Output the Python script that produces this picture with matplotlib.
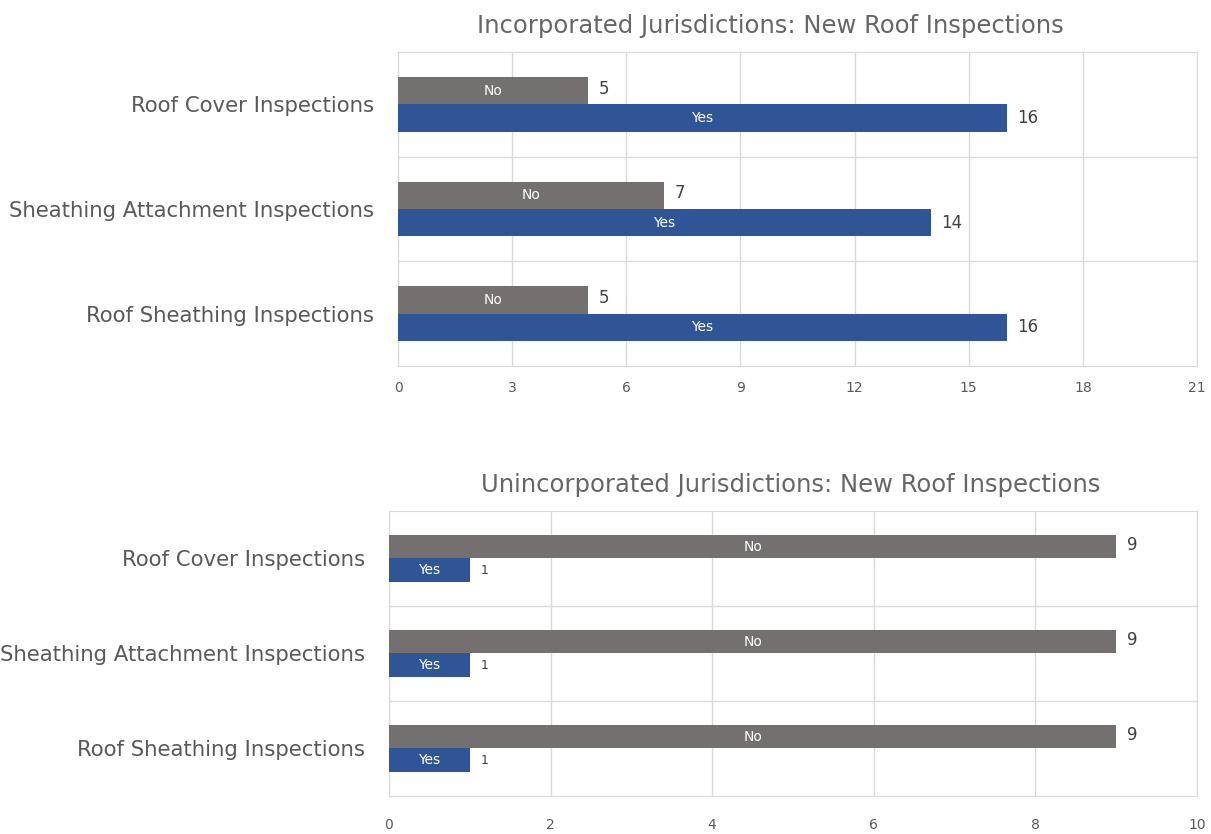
import numpy as np
import matplotlib.pyplot as plt

# Survey counts, listed top to bottom as shown
categories = ['Roof Cover Inspections', 'Sheathing Attachment Inspections', 'Roof Sheathing Inspections']
inc_no = [5, 7, 5]
inc_yes = [16, 14, 16]
uninc_no = [9, 9, 9]
uninc_yes = [1, 1, 1]

GRAY = '#757070'
BLUE = '#2F5597'
GRID = '#d9d9d9'
TXT = '#595959'

fig = plt.figure(figsize=(12.11, 8.34), dpi=100)
ax1 = fig.add_axes([0.3287, 0.5612, 0.6597, 0.3764])
ax2 = fig.add_axes([0.3212, 0.0456, 0.6672, 0.3417])


def draw(ax, no, yes, xmax, step, title, h, small_yes_lbl, title_x, xpad):
    y = np.arange(len(categories))[::-1]
    ax.barh(y + h / 2, no, height=h, color=GRAY, zorder=3)
    ax.barh(y - h / 2, yes, height=h, color=BLUE, zorder=3)
    for yi, n, v in zip(y, no, yes):
        ax.text(n / 2, yi + h / 2, 'No', color='white', ha='center', va='center', fontsize=10, zorder=4)
        ax.text(v / 2, yi - h / 2, 'Yes', color='white', ha='center', va='center', fontsize=10, zorder=4)
        ax.text(n + xmax * 0.013, yi + h / 2 + 0.02, str(n), color='#404040', ha='left', va='center', fontsize=12)
        ax.text(v + xmax * 0.013, yi - h / 2, str(v), color='#404040', ha='left', va='center',
                fontsize=9 if small_yes_lbl else 12)
    ax.set_xlim(0, xmax)
    ax.set_ylim(-0.5, len(categories) - 0.5)
    ax.set_xticks(np.arange(0, xmax + 0.1, step))
    ax.set_yticks(y)
    ax.set_yticklabels(categories, fontsize=15.3, color=TXT)
    # category separators
    for b in np.arange(0.5, len(categories) - 1, 1.0):
        ax.axhline(b, color=GRID, lw=1, zorder=1)
    ax.grid(axis='x', color=GRID, lw=1, zorder=1)
    for s in ax.spines.values():
        s.set_color(GRID)
    ax.tick_params(axis='both', length=0)
    ax.tick_params(axis='y', pad=17)
    ax.tick_params(axis='x', labelsize=10, labelcolor=TXT, pad=xpad)
    ax.set_title(title, fontsize=17.5, color='#666666', x=title_x, pad=14)


draw(ax1, inc_no, inc_yes, 21, 3, 'Incorporated Jurisdictions: New Roof Inspections', 0.26, False, 0.466, 11)
draw(ax2, uninc_no, uninc_yes, 10, 2, 'Unincorporated Jurisdictions: New Roof Inspections', 0.25, True, 0.4975, 16)

fig.savefig('out.png', dpi=100)
